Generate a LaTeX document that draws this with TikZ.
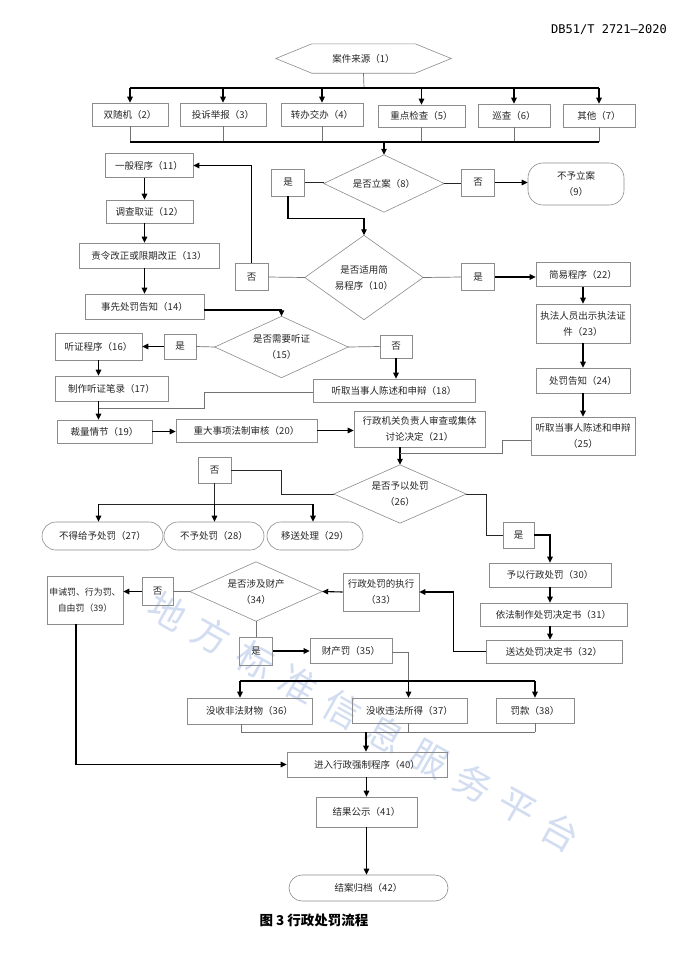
\documentclass[tikz,border=0pt]{standalone}
\usepackage{fontspec}
\setmainfont{Noto Sans CJK SC}
\newfontfamily\cjk{Noto Sans CJK SC}
\newfontfamily\hdrfont{DejaVu Sans Mono}
\usetikzlibrary{arrows.meta,calc}
\definecolor{wmcol}{RGB}{210,221,241}
\newcommand\drawdia[1]{\draw[bd] (#1.north)--(#1.east)--(#1.south)--(#1.west)--cycle;}
\begin{document}
\begin{tikzpicture}[x=1pt,y=-1pt,
  every node/.style={font=\fontsize{9.5}{16}\selectfont, text=black!85, inner sep=0pt, align=center},
  wh/.style 2 args={minimum width=#1, minimum height=#2},
  box/.style={draw=black!45, line width=0.6pt, rectangle},
  yn/.style={box, minimum width=33, minimum height=27},
  stad/.style={box, rounded corners=14pt},
  dia/.style={rectangle, draw=none},
  bd/.style={draw=black!45, line width=0.6pt},
  ln/.style={draw=black!55, line width=0.7pt},
  dk/.style={draw=black!85, line width=0.7pt},
  bk/.style={draw=black, line width=1.1pt},
  ar/.style={draw=black, line width=1.1pt, -{Triangle[length=6pt,width=5.5pt]}},
  wmk/.style={rotate=-29.4, font=\cjk\fontsize{37}{37}\selectfont, text=wmcol}
]
\useasboundingbox[fill=white] (0,0) rectangle (686,954);

% watermark
\foreach \c [count=\i from 0] in {地,方,标,准,信,息,服,务,平,台}
  \node[wmk] (wm\i) at ($(168,611)+\i*(43.6,24.6)$) {\c};

% header and caption
\node[font=\hdrfont\fontsize{12}{14}\selectfont, anchor=east, text=black] (hdr) at (667,30) {DB51/T 2721—2020};
\node[font=\cjk\bfseries\fontsize{13.5}{16}\selectfont, text=black] (cap) at (314,920) {图 3 行政处罚流程};

% top
\node[dia, wh={175}{29}] (n1) at (363.5,58.5) {案件来源（1）};
\draw[bd] (n1.west) -- ([xshift=36pt]n1.north west) -- ([xshift=-36pt]n1.north east) -- (n1.east) -- ([xshift=-36pt]n1.south east) -- ([xshift=36pt]n1.south west) -- cycle;

\node[box, wh={76}{23}] (n2) at (130,114.5) {双随机（2）};
\node[box, wh={86}{23}] (n3) at (223,114.5) {投诉举报（3）};
\node[box, wh={82}{23}] (n4) at (322,114.5) {转办交办（4）};
\node[box, wh={87}{22}] (n5) at (421.5,116) {重点检查（5）};
\node[box, wh={72}{23}] (n6) at (514,115.5) {巡查（6）};
\node[box, wh={72}{23}] (n7) at (599,115.5) {其他（7）};

\coordinate (bus1) at (364,88);
\draw[ln] (n1.south) -- (bus1);
\draw[bk] (n2.north |- bus1) -- (n7.north |- bus1);
\foreach \n in {n2,n3,n4,n5,n6,n7} \draw[ar] (\n.north |- bus1) -- (\n.north);
\coordinate (bus2) at (384,142);
\foreach \n in {n2,n3,n4,n5,n6,n7} \draw[ln] (\n.south) -- (\n.south |- bus2);
\draw[bk] (n2.south |- bus2) -- (n7.south |- bus2);

% decision 8
\node[dia, wh={120}{57}] (d8) at (384,183.5) {是否立案（8）};
\drawdia{d8}
\draw[ar] (bus2) -- (d8.north);
\node[yn] (y8) at (288,182.5) {是};
\node[yn] (no8) at (478,182.5) {否};
\node[stad, wh={96}{42}, rounded corners=15pt] (n9) at (576,184) {不予立案\\（9）};
\draw[dk] (y8.east) -- (y8.east -| d8.west);
\draw[dk] (d8.east) -- (d8.east -| no8.west);
\draw[ar] (no8.east) -- (no8.east -| n9.west);

% decision 10
\node[dia, wh={118}{84}] (d10) at (364,277.5) {是否适用简\\易程序（10）};
\drawdia{d10}
\draw[ar] (y8.south) -- ++(0,22) -| (d10.north);
\node[yn] (no10) at (251.5,277) {否};
\node[yn] (y10) at (478,277) {是};
\draw[ln] (d10.west) -- (no10.east);
\draw[ln] (d10.east) -- (y10.west);

% left column
\node[box, wh={88}{24}] (n11) at (149,165.5) {一般程序（11）};
\node[box, wh={87}{23}] (n12) at (149.5,211.5) {调查取证（12）};
\node[box, wh={140}{25}] (n13) at (149,255.5) {责令改正或限期改正（13）};
\node[box, wh={119}{25}] (n14) at (144.5,306.5) {事先处罚告知（14）};
\draw[ar] (no10.north) |- (n11.east);
\draw[ar] (n11.south -| n14.north) -- (n12.north -| n14.north);
\draw[ar] (n12.south -| n14.north) -- (n13.north -| n14.north);
\draw[ar] (n13.south -| n14.north) -- (n14.north);

% simple procedure
\node[box, wh={94}{24}] (n22) at (583,274.5) {简易程序（22）};
\node[box, wh={94}{39}] (n23) at (583,323.5) {执法人员出示执法证\\件（23）};
\node[box, wh={94}{25}] (n24) at (583,380.5) {处罚告知（24）};
\node[box, wh={104}{38}] (n25) at (583,436) {听取当事人陈述和申辩\\（25）};
\draw[ar] (y10.east) -- (y10.east -| n22.west);
\draw[ar] (n22.south) -- (n23.north);
\draw[ar] (n23.south) -- (n24.north);
\draw[ar] (n24.south) -- (n25.north);

% decision 15
\node[dia, wh={133}{61}] (d15) at (281.5,347) {是否需要听证\\（15）};
\drawdia{d15}
\draw[ar] ([yshift=-3.5pt]n14.east) -| (d15.north);
\node[yn, minimum width=32, minimum height=25] (y15) at (180,346.5) {是};
\node[yn, minimum width=32, minimum height=23] (no15) at (396,346.5) {否};
\node[box, wh={87}{27}] (n16) at (98.5,346.5) {听证程序（16）};
\node[box, wh={113}{25}] (n17) at (111.5,388.5) {制作听证笔录（17）};
\node[box, wh={162}{23}] (n18) at (394,390.5) {听取当事人陈述和申辩（18）};
\node[box, wh={95}{23}] (n19) at (104.5,431.5) {裁量情节（19）};
\node[box, wh={141}{23}] (n20) at (246.5,430.5) {重大事项法制审核（20）};
\node[box, wh={131}{36}] (n21) at (419.5,429) {行政机关负责人审查或集体\\讨论决定（21）};
\draw[ln] (d15.west) -- (y15.east);
\draw[ar] (y15.west) -- (y15.west -| n16.east);
\draw[ln] (d15.east) -- (no15.west);
\draw[ar] (no15.south) -- (no15.south |- n18.north);
\draw[ar] (n16.south) -- (n16.south |- n17.north);
\draw[ar] (n16.south |- n17.south) -- (n16.south |- n19.north);
\coordinate (m19) at (98.5,408);
\draw[ln] ([yshift=-2pt]n18.west) -- ++(-108,0) |- (m19);
\draw[ar] (n19.east) -- (n19.east -| n20.west);
\draw[ar] (n20.east) -- (n20.east -| n21.west);

% decision 26
\node[dia, wh={132}{58}] (d26) at (400,494) {是否予以处罚\\（26）};
\drawdia{d26}
\coordinate (m26) at (400,453.5);
\draw[ar] (n21.south -| m26) -- (d26.north);
\draw[ln] ([yshift=-4pt]n25.west) -- ++(-28,0) |- (m26);
\node[yn, minimum height=26] (no26) at (214.5,470) {否};
\node[yn, minimum width=31, minimum height=26] (y26) at (518.5,535) {是};
\draw[dk] (no26.east) -- ++(50,0) |- (d26.west);
\draw[dk] (d26.east) -- ++(20,0) |- (y26.west);
\node[stad, wh={121}{28}] (n27) at (102.5,536) {不得给予处罚（27）};
\node[stad, wh={100}{28}] (n28) at (214,536) {不予处罚（28）};
\node[stad, wh={96}{28}] (n29) at (315,536) {移送处理（29）};
\coordinate (bus26) at (214.5,504);
\draw[dk] (no26.south) -- (bus26);
\draw[dk] ([xshift=-4pt]n27.north |- bus26) -- ([xshift=-2pt]n29.north |- bus26);
\draw[ar] ([xshift=-4pt]n27.north |- bus26) -- ([xshift=-4pt]n27.north);
\draw[ar] (bus26) -- (bus26 |- n28.north);
\draw[ar] ([xshift=-2pt]n29.north |- bus26) -- ([xshift=-2pt]n29.north);

% punishment
\node[box, wh={122}{24}] (n30) at (550,575) {予以行政处罚（30）};
\node[box, wh={147}{23}] (n31) at (553.5,614.5) {依法制作处罚决定书（31）};
\node[box, wh={136}{23}] (n32) at (554,651.5) {送达处罚决定书（32）};
\draw[ar] (y26.east) -| (n30.north);
\draw[ar] (n30.south) -- (n30.south |- n31.north);
\draw[ar] (n30.south |- n31.south) -- (n30.south |- n32.north);
\node[box, wh={76}{38}] (n33) at (381,592) {行政处罚的执行\\（33）};
\draw[ar] (n32.west) -- ++(-32,0) |- (n33.east);

% decision 34
\node[dia, wh={132}{59}] (d34) at (256,591.5) {是否涉及财产\\（34）};
\drawdia{d34}
\draw[ar] (n33.west) -- (d34.east);
\node[yn, minimum width=31, minimum height=28] (no34) at (157.5,591.5) {否};
\node[box, wh={76}{48}, font=\fontsize{8.9}{16}\selectfont] (n39) at (85,600) {申诫罚、行为罚、\\自由罚（39）};
\draw[ln] (d34.west) -- (no34.east);
\draw[ar] (no34.west) -- (no34.west -| n39.east);
\node[yn, minimum height=28] (y34) at (256,651) {是};
\node[box, wh={82}{25}] (n35) at (351,650.5) {财产罚（35）};
\draw[ln] (d34.south) -- (y34.north);
\draw[ar] (y34.east) -- (y34.east -| n35.west);

\node[box, wh={125}{26}] (n36) at (249.5,711) {没收非法财物（36）};
\node[box, wh={115}{25}] (n37) at (409.5,710.5) {没收违法所得（37）};
\node[box, wh={78}{25}] (n38) at (535,710.5) {罚款（38）};
\coordinate (bus35) at (408.5,681);
\draw[ln] ([yshift=-1.5pt]n35.east) -| (bus35);
\draw[bk] ([xshift=-9.5pt]n36.north |- bus35) -- (n38.north |- bus35);
\draw[ar] ([xshift=-9.5pt]n36.north |- bus35) -- ([xshift=-9.5pt]n36.north);
\draw[ar] (bus35) -- (bus35 |- n37.north);
\draw[ar] (n38.north |- bus35) -- (n38.north);

\node[box, wh={160}{25}] (n40) at (367,764.5) {进入行政强制程序（40）};
\coordinate (bus40) at (366,732);
\draw[ln] ([xshift=-8.5pt]n36.south) -- ([xshift=-8.5pt]n36.south |- bus40);
\draw[ln] (bus35 |- n37.south) -- (bus35 |- bus40);
\draw[ln] (n38.south) -- (n38.south |- bus40);
\draw[ln] ([xshift=-8.5pt]n36.south |- bus40) -- (n38.south |- bus40);
\draw[ar] (bus40) -- (bus40 |- n40.north);
\draw[ar] ([xshift=-9pt]n39.south) |- (n40.west);

\node[box, wh={101}{30}] (n41) at (366.5,812) {结果公示（41）};
\node[stad, wh={159}{26}, rounded corners=13pt] (n42) at (368.5,888) {结案归档（42）};
\draw[ar] (n40.south -| n41.north) -- (n41.north);
\draw[ar] (n41.south) -- (n41.south |- n42.north);
\end{tikzpicture}
\end{document}
